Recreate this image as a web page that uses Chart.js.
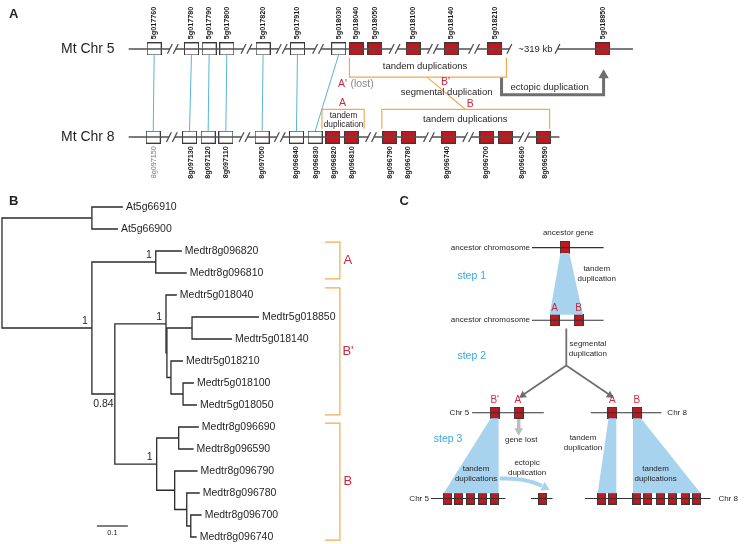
<!DOCTYPE html>
<html>
<head>
<meta charset="utf-8">
<script src="https://cdn.jsdelivr.net/npm/chart.js@4.4.1/dist/chart.umd.min.js"></script>
<style>
  html, body { margin: 0; padding: 0; background: #fff; }
  #wrap { position: relative; width: 746px; height: 544px; }
  #wrap canvas { position: absolute; }
</style>
</head>
<body>
<div id="wrap">
  <canvas id="diagram" width="746" height="544" style="left:0;top:0"></canvas>
  <canvas id="tree" width="375" height="354" style="left:0;top:190px"></canvas>
</div>
<script>
// ---------- panel A : gene order on the two chromosomes (schematic position units)
const chr5Genes = ['5g017760', '5g017780', '5g017790', '5g017800', '5g017820', '5g017910', '5g018030',
                   '5g018040', '5g018050', '5g018100', '5g018140', '5g018210', '5g018850'];
const chr5Pos   = [150, 188, 206, 224, 261, 296, 338, 356, 375, 414, 453, 497, 607];
const chr5Dup   = [0, 0, 0, 0, 0, 0, 0, 1, 1, 1, 1, 1, 1];
const chr5Breaks = [169, 244, 280, 317, 395, 434, 476];

const chr8Pos   = [149, 186, 205, 223, 260, 295, 314, 332, 351, 390, 409, 450, 489, 508, 547];
const chr8Dup   = [0, 0, 0, 0, 0, 0, 0, 1, 1, 1, 1, 1, 1, 1, 1];
const chr8Genes = ['8g097150', '8g097130', '8g097120', '8g097110', '8g097050', '8g096840', '8g096830',
                   '8g096820', '8g096810', '8g096790', '8g096780', '8g096740', '8g096700', '8g096690', '8g096590'];
const chr8LabelPos = [150, 188, 205, 223, 260, 295, 315, 333, 352, 390, 409, 448, 488, 525, 548];
const chr8Breaks = [168, 242, 278, 371, 430, 470, 527];

// syntenic pairs (index on chr5, index on chr8)
const synteny = [[0, 0], [1, 1], [2, 2], [3, 3], [4, 4], [5, 5], [6, 6]];

// ---------- panel B : tree (branch lengths, substitutions per site)
const leafNames  = ['At5g66910', 'At5g66900', 'Medtr8g096820', 'Medtr8g096810', 'Medtr5g018040', 'Medtr5g018850',
                    'Medtr5g018140', 'Medtr5g018210', 'Medtr5g018100', 'Medtr5g018050', 'Medtr8g096690',
                    'Medtr8g096590', 'Medtr8g096790', 'Medtr8g096780', 'Medtr8g096700', 'Medtr8g096740'];
const leafParent = ['at', 'at', 'a', 'a', 'bp1', 'n850', 'n850', 'bp3', 'n100', 'n100', 'n690', 'n690', 'n2', 'n3', 'n4', 'n4'];
const leafBranch = [0.100, 0.084, 0.084, 0.100, 0.035, 0.216, 0.129, 0.039, 0.035, 0.045, 0.065, 0.048, 0.074, 0.042, 0.035, 0.019];
const nodeIds    = ['root', 'at', 'x', 'a', 'y', 'bp1', 'bp2', 'n850', 'bp3', 'n100', 'b', 'n690', 'n2', 'n3', 'n4'];
const nodeParent = [null, 'root', 'root', 'x', 'x', 'y', 'bp1', 'bp2', 'bp2', 'bp3', 'y', 'b', 'b', 'n2', 'n3'];
const nodeBranch = [0, 0.290, 0.290, 0.206, 0.074, 0.165, 0.003, 0.081, 0.013, 0.039, 0.135, 0.071, 0.058, 0.039, 0.013];
const supportNodes  = ['x', 'a', 'bp1', 'b', 'y'];
const supportLabels = ['1', '1', '1', '1', '0.84'];
const cladeNames = ['A', "B'", 'B'];
const cladeFrom  = [1.6, 3.68, 9.82];
const cladeTo    = [3.27, 9.45, 15.14];
const scaleBarLength = 0.1;

// ---------- panel C : model (schematic position units)
const ancestorGene = [568.5];
const step1Genes = [558, 582.5];
const step1Names = ['A', 'B'];
const chr5Step2 = [497, 521.5];
const chr5Step2Names = ["B'", "A'"];
const chr8Step2 = [617, 642];
const chr8Step2Names = ['A', 'B'];
const chr5Step3 = [449, 460.5, 472.5, 484.5, 497];
const ectopicCopy = [546];
const chr8Step3 = [606, 617, 642, 653, 666, 678, 691, 703];

// ---------- styles
const FONT = '"Liberation Sans", Arial, sans-serif';
const TEXT = '#231f20';
const RED = '#c3161d';
const RED_TXT = '#cc2840';
const EDGE = '#3a3a3a';
const ORANGE = '#f1aa52';
const SYN_BLUE = '#58b4da';
const FILL_BLUE = '#a8d3ee';
const STEP_BLUE = '#3aa6dd';
const GREY = '#6f6f6f';

function boxImage(w, h, fill) {
    const c = document.createElement('canvas');
    c.width = w + 1;
    c.height = h + 1;
    const g = c.getContext('2d');
    g.fillStyle = fill;
    g.fillRect(0.5, 0.5, w, h);
    g.strokeStyle = EDGE;
    g.lineWidth = 1;
    g.strokeRect(0.5, 0.5, w, h);
    return c;
}

function textPlugin(items) {
    return {
        id: 'texts',
        afterDatasetsDraw(chart) {
            const { ctx, scales } = chart;
            items.forEach(t => {
                ctx.save();
                ctx.font = t.f;
                ctx.fillStyle = t.c || TEXT;
                ctx.textAlign = t.a || 'center';
                ctx.textBaseline = t.b || 'middle';
                ctx.translate(scales.x.getPixelForValue(t.x) + (t.dx || 0), scales.y.getPixelForValue(t.y) + (t.dy || 0));
                if (t.rot) ctx.rotate(t.rot);
                ctx.fillText(t.t, 0, 0);
                ctx.restore();
            });
        }
    };
}

function chartOptions(xmin, xmax, ymin, ymax) {
    return {
        responsive: false,
        animation: false,
        events: [],
        layout: { padding: 0 },
        plugins: { legend: { display: false }, tooltip: { enabled: false } },
        scales: {
            x: { type: 'linear', min: xmin, max: xmax, display: false },
            y: { type: 'linear', min: ymin, max: ymax, reverse: true, display: false }
        }
    };
}

function makeHelpers(datasets) {
    const poly = (pts, color, width, extra) => datasets.push(Object.assign({
        data: pts.map(p => ({ x: p[0], y: p[1] })),
        showLine: true, borderColor: color, borderWidth: width,
        borderJoinStyle: 'miter', borderCapStyle: 'butt',
        pointRadius: 0, fill: false, tension: 0
    }, extra || {}));
    const shape = (pts, color) => datasets.push({
        data: pts.concat([pts[0]]).map(p => ({ x: p[0], y: p[1] })),
        showLine: true, borderWidth: 0, backgroundColor: color,
        pointRadius: 0, fill: 'shape', tension: 0
    });
    const head = (tip, from, color, r) => {
        const dx = tip[0] - from[0], dy = tip[1] - from[1];
        const len = Math.hypot(dx, dy);
        const ux = dx / len, uy = dy / len;
        datasets.push({
            data: [{ x: tip[0] - ux * r, y: tip[1] - uy * r }],
            pointStyle: 'triangle', pointRadius: r, pointBorderWidth: 0,
            pointBackgroundColor: color, pointRotation: Math.atan2(ux, -uy) * 180 / Math.PI
        });
    };
    const boxes = (xs, y, img) => datasets.push({
        data: xs.map(x => ({ x: x, y: y })),
        pointStyle: img, pointRadius: 6
    });
    return { poly, shape, head, boxes };
}

// =============== diagram (panels A and C) ===============
const diagSets = [];
const D = makeHelpers(diagSets);
const diagTexts = [];

const CHR5_Y = 43, CHR8_Y = 133.5;
const chrColor = '#505050';

function chromosome(y, x0, x1, breaks, gaps) {
    const cuts = breaks.map(b => [b - 3, b + 3]).concat(gaps).sort((p, q) => p[0] - q[0]);
    let start = x0;
    cuts.forEach(c => {
        D.poly([[start, y], [c[0], y]], chrColor, 1.5);
        start = c[1];
    });
    D.poly([[start, y], [x1, y]], chrColor, 1.5);
    const slash = s => D.poly([[s - 2.5, y + 5], [s + 2.5, y - 5]], chrColor, 1.3);
    breaks.forEach(b => { slash(b - 3); slash(b + 3); });
    gaps.forEach(g => { slash(g[0]); slash(g[1]); });
}

// synteny links first (under the boxes)
synteny.forEach(([i, j]) => {
    D.poly([[chr5Pos[i], CHR5_Y + 6], [chr8Pos[j], CHR8_Y - 6]], SYN_BLUE, 1);
});

chromosome(CHR5_Y, 124, 638, chr5Breaks, [[512, 561]]);
chromosome(CHR8_Y, 124, 563, chr8Breaks, []);

// brackets
D.poly([[349, 52], [349, 72], [509, 72], [509, 52]], ORANGE, 1.2);
D.poly([[428, 72], [467, 105]], ORANGE, 1.2);
D.poly([[321, 125], [321, 105], [364, 105], [364, 125]], ORANGE, 1.2);
D.poly([[382, 125], [382, 105], [553, 105], [553, 125]], ORANGE, 1.2);

// ectopic duplication arrow
D.poly([[504, 72], [504, 90], [608, 90], [608, 71]], GREY, 3);
D.head([608, 64], [608, 90], GREY, 6);

const whiteA = boxImage(14, 12, '#ffffff');
const redA = boxImage(14, 12, RED);
D.boxes(chr5Pos.filter((p, i) => !chr5Dup[i]), CHR5_Y, whiteA);
D.boxes(chr5Pos.filter((p, i) => chr5Dup[i]), CHR5_Y, redA);
D.boxes(chr8Pos.filter((p, i) => !chr8Dup[i]), CHR8_Y, whiteA);
D.boxes(chr8Pos.filter((p, i) => chr8Dup[i]), CHR8_Y, redA);

// panel C
const cLine = '#333333';
[[535, 608, 247], [535, 608, 321.5], [474, 547, 416.5], [595, 667, 416.5],
 [432, 508, 504.5], [534, 556, 504.5], [589, 717, 504.5]].forEach(l => D.poly([[l[0], l[2]], [l[1], l[2]]], cLine, 1.1));

D.shape([[564, 252.5], [573, 252.5], [587, 316], [553, 316]], FILL_BLUE);
D.shape([[493, 422], [501, 422], [501, 499], [445, 499]], FILL_BLUE);
D.shape([[613, 422], [621, 422], [621, 499], [602, 499]], FILL_BLUE);
D.shape([[638, 422], [646, 422], [707, 499], [638, 499]], FILL_BLUE);

D.poly([[570, 330], [570, 368]], GREY, 1.8);
D.poly([[570, 368], [526, 398]], GREY, 1.8);
D.poly([[570, 368], [614, 398]], GREY, 1.8);
D.head([522, 401], [570, 368], GREY, 4.5);
D.head([618, 401], [570, 368], GREY, 4.5);

D.poly([[521.5, 423], [521.5, 434]], '#bdbdbd', 3.5);
D.head([521.5, 440], [521.5, 423], '#bdbdbd', 5);

D.poly([[502, 484], [519, 484.5], [535, 487.5], [545, 491.5]], FILL_BLUE, 4, { tension: 0.4 });
D.head([553, 495.5], [545, 491.5], FILL_BLUE, 5.5);

const redC = boxImage(9, 11, RED);
const redC2 = boxImage(8, 11, RED);
D.boxes(ancestorGene, 246.5, boxImage(9, 12, RED));
D.boxes(step1Genes, 321.5, redC);
D.boxes(chr5Step2, 416.5, redC);
D.boxes(chr8Step2, 416.5, redC);
D.boxes(chr5Step3, 504.5, redC2);
D.boxes(ectopicCopy, 504.5, redC2);
D.boxes(chr8Step3, 504.5, redC2);

// texts
const fPanel = 'bold 13px ' + FONT;
const fChr = '14px ' + FONT;
const fGene = 'bold 7.2px ' + FONT;
const fAnn = '9.5px ' + FONT;
const fSmall = '8.3px ' + FONT;
const fRedA = '10.5px ' + FONT;
const fC = '8px ' + FONT;
const fStep = '10.5px ' + FONT;
const fRedC = '10px ' + FONT;

diagTexts.push(
    { t: 'A', x: 2, y: 8, f: fPanel, a: 'left' },
    { t: 'B', x: 2, y: 200, f: fPanel, a: 'left' },
    { t: 'C', x: 400, y: 200, f: fPanel, a: 'left' },
    { t: 'Mt Chr 5', x: 55, y: 43, f: fChr, a: 'left' },
    { t: 'Mt Chr 8', x: 55, y: 134, f: fChr, a: 'left' },
    { t: '~319 kb', x: 538.5, y: 43, f: fAnn },
    { t: 'tandem duplications', x: 426, y: 61, f: fAnn },
    { t: "A'", x: 342, y: 79, f: fRedA, c: RED_TXT },
    { t: '(lost)', x: 350, y: 79, f: fRedA, c: '#8a8a8a', a: 'left' },
    { t: "B'", x: 447, y: 77, f: fRedA, c: RED_TXT },
    { t: 'segmental duplication', x: 448, y: 88, f: fAnn },
    { t: 'B', x: 472, y: 100, f: fRedA, c: RED_TXT },
    { t: 'ectopic duplication', x: 553, y: 83, f: fAnn },
    { t: 'A', x: 342, y: 99, f: fRedA, c: RED_TXT },
    { t: 'tandem', x: 343, y: 112, f: fSmall },
    { t: 'duplication', x: 343, y: 121, f: fSmall },
    { t: 'tandem duplications', x: 467, y: 115, f: fAnn }
);
chr5Genes.forEach((g, i) => diagTexts.push({ t: g, x: chr5Pos[i], y: 33, f: fGene, a: 'left', rot: -Math.PI / 2, c: '#1a1a1a' }));
chr8Genes.forEach((g, i) => diagTexts.push({ t: g, x: chr8LabelPos[i], y: 143, f: i === 0 ? '7.2px ' + FONT : fGene, a: 'right', rot: -Math.PI / 2, c: i === 0 ? '#7a7a7a' : '#1a1a1a' }));

diagTexts.push(
    { t: 'ancestor gene', x: 572, y: 232, f: fC },
    { t: 'ancestor chromosome', x: 533, y: 247, f: fC, a: 'right' },
    { t: 'ancestor chromosome', x: 533, y: 321.5, f: fC, a: 'right' },
    { t: 'tandem', x: 601, y: 269, f: fC },
    { t: 'duplication', x: 601, y: 279, f: fC },
    { t: 'step 1', x: 459, y: 276, f: fStep, a: 'left', c: STEP_BLUE },
    { t: 'segmental', x: 592, y: 346, f: fC },
    { t: 'duplication', x: 592, y: 356, f: fC },
    { t: 'step 2', x: 459, y: 358, f: fStep, a: 'left', c: STEP_BLUE },
    { t: 'Chr 5', x: 471, y: 416.5, f: fC, a: 'right' },
    { t: 'Chr 8', x: 673, y: 416.5, f: fC, a: 'left' },
    { t: 'gene lost', x: 524, y: 444, f: fC },
    { t: 'step 3', x: 435, y: 444, f: fStep, a: 'left', c: STEP_BLUE },
    { t: 'tandem', x: 587, y: 442, f: fC },
    { t: 'duplication', x: 587, y: 452, f: fC },
    { t: 'ectopic', x: 530, y: 468, f: fC },
    { t: 'duplication', x: 530, y: 478, f: fC },
    { t: 'tandem', x: 478, y: 474, f: fC },
    { t: 'duplications', x: 478, y: 484, f: fC },
    { t: 'tandem', x: 661, y: 474, f: fC },
    { t: 'duplications', x: 661, y: 484, f: fC },
    { t: 'Chr 5', x: 430, y: 504.5, f: fC, a: 'right' },
    { t: 'Chr 8', x: 725, y: 504.5, f: fC, a: 'left' }
);
step1Names.forEach((n, i) => diagTexts.push({ t: n, x: step1Genes[i], y: 309, f: fRedC, c: RED_TXT }));
chr5Step2Names.forEach((n, i) => diagTexts.push({ t: n, x: chr5Step2[i], y: 404, f: fRedC, c: RED_TXT }));
chr8Step2Names.forEach((n, i) => diagTexts.push({ t: n, x: chr8Step2[i], y: 404, f: fRedC, c: RED_TXT }));

new Chart(document.getElementById('diagram'), {
    type: 'scatter',
    data: { datasets: diagSets },
    options: chartOptions(0, 746, 0, 544),
    plugins: [textPlugin(diagTexts)]
});

// =============== tree (panel B) ===============
const PX_PER_UNIT = 310;   // 0.1 substitutions = 31 px
const ROW_PX = 22;
const treeSets = [];
const T = makeHelpers(treeSets);
const treeTexts = [];

const nodeX = {}, nodeY = {}, children = {};
nodeIds.forEach((id, i) => {
    children[id] = [];
    nodeX[id] = nodeParent[i] ? nodeX[nodeParent[i]] + nodeBranch[i] : 0;
});
nodeIds.forEach((id, i) => { if (nodeParent[i]) children[nodeParent[i]].push({ id: id, leaf: false }); });
leafNames.forEach((n, i) => children[leafParent[i]].push({ id: i, leaf: true }));
const leafX = leafNames.map((n, i) => nodeX[leafParent[i]] + leafBranch[i]);
const posOf = c => c.leaf ? [leafX[c.id], c.id] : [nodeX[c.id], nodeY[c.id]];
nodeIds.slice().reverse().forEach(id => {
    const ys = children[id].map(c => posOf(c)[1]);
    nodeY[id] = (Math.min(...ys) + Math.max(...ys)) / 2;
});

const treeColor = '#2b2b2b';
nodeIds.forEach(id => {
    const kids = children[id].map(posOf).sort((p, q) => p[1] - q[1]);
    const top = kids[0], bot = kids[kids.length - 1];
    T.poly([[top[0], top[1]], [nodeX[id], top[1]], [nodeX[id], bot[1]], [bot[0], bot[1]]], treeColor, 1.3);
});

// clade brackets
cladeNames.forEach((n, i) => {
    T.poly([[1.042, cladeFrom[i]], [1.090, cladeFrom[i]], [1.090, cladeTo[i]], [1.042, cladeTo[i]]], ORANGE, 1.2);
    treeTexts.push({ t: n, x: 1.116, y: (cladeFrom[i] + cladeTo[i]) / 2, f: '13px ' + FONT, c: RED_TXT });
});

// scale bar
T.poly([[0.306, 14.5], [0.306 + scaleBarLength, 14.5]], treeColor, 1.2);
treeTexts.push({ t: String(scaleBarLength), x: 0.306 + scaleBarLength / 2, y: 14.5, dy: 7, f: '7.5px ' + FONT });

const fLeaf = '10.5px ' + FONT;
leafNames.forEach((n, i) => treeTexts.push({ t: n, x: leafX[i], y: i, dx: 3, f: fLeaf, a: 'left' }));
supportNodes.forEach((id, i) => {
    if (supportLabels[i] === '1') {
        treeTexts.push({ t: '1', x: nodeX[id], y: nodeY[id], dx: -4, dy: -1.5, f: fLeaf, a: 'right', b: 'bottom' });
    } else {
        const px = nodeX[nodeParent[nodeIds.indexOf(id)]];
        treeTexts.push({ t: supportLabels[i], x: (px + nodeX[id]) / 2, y: nodeY[id], dy: 10, f: fLeaf });
    }
});

new Chart(document.getElementById('tree'), {
    type: 'scatter',
    data: { datasets: treeSets },
    options: chartOptions(-2 / PX_PER_UNIT, 373 / PX_PER_UNIT, -17 / ROW_PX, 337 / ROW_PX),
    plugins: [textPlugin(treeTexts)]
});
</script>
</body>
</html>
